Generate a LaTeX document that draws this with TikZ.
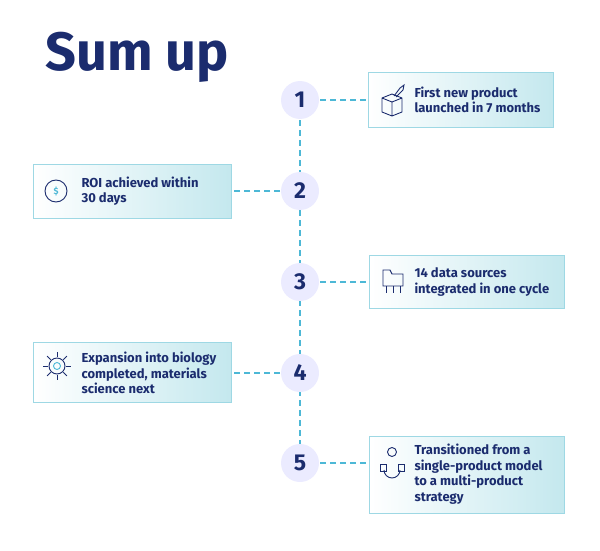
\documentclass[tikz,border=0pt]{standalone}
\usepackage{fontspec}
\setmainfont{Fira Sans}
\begin{document}
\begin{tikzpicture}[x=1pt,y=-1pt,
  box/.style={draw=boxd,line width=1pt,left color=white,right color=boxr,shading angle=90},
  lbl/.style={anchor=west,align=left,text=navyc,font=\fontsize{13}{15.5}\selectfont\bfseries},
  num/.style={circle,minimum size=38pt,inner sep=0pt,fill=blue!8!white,text=navyc,font=\fontsize{23}{24}\selectfont\bfseries},
  dashln/.style={draw=dashc,line width=1.5pt,dash pattern=on 6pt off 4pt},
  ic/.style={draw=navyc,line width=0.9pt}]
\definecolor{navyc}{HTML}{1B2C6E}
\definecolor{dashc}{HTML}{4DB8D6}
\definecolor{boxd}{HTML}{9ED8E4}
\definecolor{boxr}{HTML}{C4E8EE}
\path[use as bounding box] (0,0) rectangle (600,551);
\node[anchor=west,text=navyc,font=\fontsize{54}{58}\selectfont\bfseries] (title) at (42,57) {Sum up};
% boxes
\path[box] (368,73) rectangle (553,127); \coordinate (b1) at (368,100);
\path[box] (33,164) rectangle (231,218); \coordinate (b2) at (231,191);
\path[box] (369,255) rectangle (564,308); \coordinate (b3) at (369,282);
\path[box] (33,342) rectangle (231,402); \coordinate (b4) at (231,373);
\path[box] (369,436) rectangle (564,513); \coordinate (b5) at (369,463);
% circles
\foreach \i/\y in {1/100,2/191,3/282,4/373,5/463}{\path (300,\y) coordinate (c\i);}
\draw[dashln] (c1) -- (c5);
\draw[dashln] (c1) -- (b1); \draw[dashln] (c2) -- (b2); \draw[dashln] (c3) -- (b3);
\draw[dashln] (c4) -- (b4); \draw[dashln] (c5) -- (b5);
\foreach \i in {1,...,5}{\node[num] (n\i) at (c\i) {\i};}
% labels
\node[lbl] (t1) at (411,100) {First new product\\launched in 7 months};
\node[lbl] (t2) at (78,191) {ROI achieved within\\30 days};
\node[lbl] (t3) at (411,282) {14 data sources\\integrated in one cycle};
\node[lbl] (t4) at (78,373) {Expansion into biology\\completed, materials\\science next};
\node[lbl] (t5) at (411,474) {Transitioned from a\\single-product model\\to a multi-product\\strategy};
% icons
\draw[ic] (382,98) -- (392,94) -- (402,98) -- (402,112) -- (392,116) -- (382,112) -- cycle (382,98) -- (392,102) -- (402,98) (392,102) -- (392,116);
\draw[ic] (394,96) -- (400,88) -- (404,85) -- (403,90) -- (396,97);
\draw[ic] (56,191) circle (11); \node[text=dashc,font=\bfseries\small] (d) at (56,191) {\$};
\draw[ic] (383,270) -- (383,286) -- (403,286) -- (403,274) -- (392,274) -- (390,270) -- cycle;
\draw[ic] (386,286) -- (386,293) (393,286) -- (393,293) (400,286) -- (400,293);
\draw[ic] (57,366) circle (8); \draw[dashc,line width=0.9pt] (57,366) circle (3.5);
\foreach \a in {0,45,...,315}{\draw[ic] (57,366) ++(\a:9) -- ++(\a:5);}
\draw[ic] (392,452) circle (4.5); \draw[ic] (384,470) arc (180:0:8);
\draw[ic] (380,464) rectangle (386,471) (398,464) rectangle (404,471);
\end{tikzpicture}
\end{document}
